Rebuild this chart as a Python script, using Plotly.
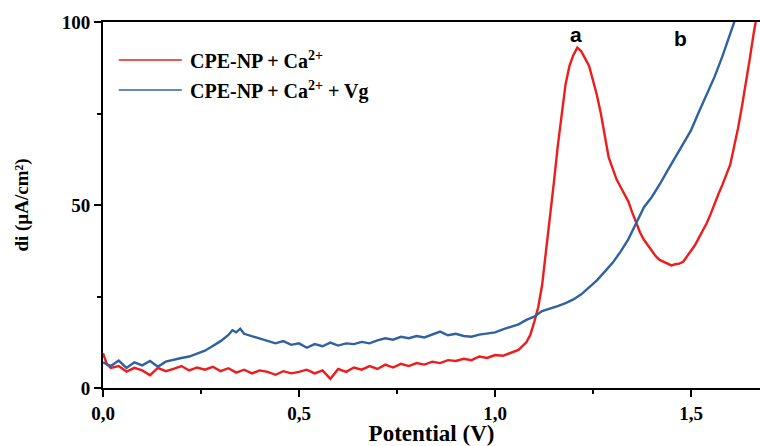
import plotly.graph_objects as go

# Differential pulse voltammograms: potential (V) vs current density (µA/cm²)
red_x = [0.00, 0.01, 0.02, 0.04, 0.06, 0.08, 0.10, 0.12, 0.14, 0.16, 0.18, 0.20,
         0.22, 0.24, 0.26, 0.28, 0.30, 0.32, 0.34, 0.36, 0.38, 0.40, 0.42, 0.44,
         0.46, 0.48, 0.50, 0.52, 0.54, 0.56, 0.58, 0.60, 0.62, 0.64, 0.66, 0.68,
         0.70, 0.72, 0.74, 0.76, 0.78, 0.80, 0.82, 0.84, 0.86, 0.88, 0.90, 0.92,
         0.94, 0.96, 0.98, 1.00, 1.02, 1.04, 1.06, 1.08, 1.09, 1.10, 1.11, 1.12,
         1.13, 1.14, 1.15, 1.16, 1.17, 1.18, 1.19, 1.20, 1.21, 1.22, 1.23, 1.24,
         1.25, 1.26, 1.27, 1.28, 1.29, 1.30, 1.31, 1.32, 1.33, 1.34, 1.35, 1.36,
         1.37, 1.38, 1.39, 1.40, 1.41, 1.42, 1.43, 1.44, 1.45, 1.46, 1.47, 1.48,
         1.49, 1.50, 1.51, 1.52, 1.53, 1.54, 1.55, 1.56, 1.57, 1.58, 1.59, 1.60,
         1.61, 1.62, 1.63, 1.64, 1.65, 1.66, 1.67]
red_y = [9.5, 6.5, 5.5, 6.0, 4.5, 5.5, 4.8, 3.5, 5.5, 4.6, 5.2, 6.0,
         4.8, 5.6, 5.0, 5.8, 4.6, 5.4, 4.2, 5.0, 4.0, 4.8, 4.4, 3.6,
         4.6, 4.0, 4.4, 5.0, 4.0, 4.8, 2.5, 5.2, 4.4, 5.6, 5.0, 6.0,
         5.2, 6.4, 5.6, 6.6, 6.0, 6.8, 6.4, 7.2, 6.8, 7.6, 7.4, 8.0,
         7.6, 8.6, 8.2, 9.0, 8.8, 9.6, 10.4, 12.5, 14.5, 18.0, 22.0, 28.0,
         37.0, 46.0, 56.0, 66.0, 75.0, 83.0, 88.0, 91.0, 93.0, 92.0, 90.0, 88.0,
         84.0, 80.0, 75.0, 69.0, 63.0, 60.0, 57.0, 55.0, 53.0, 51.0, 48.0, 45.0,
         42.5, 40.5, 39.0, 37.5, 36.0, 35.0, 34.5, 34.0, 33.5, 33.8, 34.0, 34.5,
         36.0, 37.5, 39.0, 41.0, 43.0, 45.0, 47.5, 50.5, 53.0, 55.5, 58.0, 61.0,
         66.0, 71.0, 77.0, 83.0, 90.0, 97.0, 103.0]

blue_x = [0.00, 0.02, 0.04, 0.06, 0.08, 0.10, 0.12, 0.14, 0.16, 0.18, 0.20, 0.22,
          0.24, 0.26, 0.28, 0.30, 0.32, 0.33, 0.34, 0.35, 0.36, 0.38, 0.40, 0.42,
          0.44, 0.46, 0.48, 0.50, 0.52, 0.54, 0.56, 0.58, 0.60, 0.62, 0.64, 0.66,
          0.68, 0.70, 0.72, 0.74, 0.76, 0.78, 0.80, 0.82, 0.84, 0.86, 0.88, 0.90,
          0.92, 0.94, 0.96, 0.98, 1.00, 1.02, 1.04, 1.06, 1.08, 1.10, 1.12, 1.14,
          1.16, 1.18, 1.20, 1.22, 1.24, 1.26, 1.28, 1.30, 1.32, 1.34, 1.36, 1.38,
          1.40, 1.42, 1.44, 1.46, 1.48, 1.50, 1.52, 1.54, 1.56, 1.58, 1.60, 1.62]
blue_y = [7.0, 6.0, 7.5, 5.5, 7.0, 6.2, 7.4, 5.8, 7.2, 7.8, 8.2, 8.6,
          9.4, 10.2, 11.5, 12.8, 14.5, 15.8, 15.2, 16.2, 14.8, 14.2, 13.5, 13.0,
          12.2, 12.8, 11.8, 12.2, 11.0, 12.0, 11.4, 12.4, 11.6, 12.2, 12.0, 12.6,
          12.2, 13.0, 13.6, 13.2, 14.0, 13.6, 14.2, 13.8, 14.6, 15.4, 14.4, 14.8,
          14.2, 14.0, 14.6, 15.0, 15.2, 16.0, 16.6, 17.4, 18.6, 19.5, 21.0, 21.6,
          22.4, 23.2, 24.2, 25.6, 27.4, 29.4, 31.8, 34.2, 37.2, 40.6, 45.0, 49.4,
          52.2, 55.6, 59.4, 63.0, 66.6, 70.4, 75.4, 80.0, 85.0, 90.6, 97.0, 103.0]

series_names = ["CPE-NP + Ca<sup>2+</sup>", "CPE-NP + Ca<sup>2+</sup> + Vg"]
series_colors = ["#ee1c1c", "#2e62a0"]

x_ticks = [0.0, 0.5, 1.0, 1.5]
x_tick_text = ["0,0", "0,5", "1,0", "1,5"]
y_ticks = [0, 50, 100]

peak_labels = ["a", "b"]
peak_label_x = [1.207, 1.472]
peak_label_y = [96.7, 95.4]

serif = "Liberation Serif"

fig = go.Figure()
fig.add_trace(go.Scatter(x=red_x, y=red_y, mode="lines", name=series_names[0],
                         line=dict(color=series_colors[0], width=2.4), showlegend=False))
fig.add_trace(go.Scatter(x=blue_x, y=blue_y, mode="lines", name=series_names[1],
                         line=dict(color=series_colors[1], width=2.4), showlegend=False))

# Hand-placed legend: line samples plus labels
legend_y = [0.896, 0.814]
for name, color, ly in zip(series_names, series_colors, legend_y):
    fig.add_shape(type="line", xref="paper", yref="paper",
                  x0=0.024, x1=0.120, y0=ly, y1=ly,
                  line=dict(color=color, width=1.5))
    fig.add_annotation(xref="paper", yref="paper", x=0.130, y=ly, xanchor="left",
                       yanchor="middle", text="<b>" + name + "</b>", showarrow=False,
                       font=dict(family=serif, size=20, color="black", weight="bold"))

for t, px, py in zip(peak_labels, peak_label_x, peak_label_y):
    fig.add_annotation(x=px, y=py, text="<b>" + t + "</b>", showarrow=False,
                       font=dict(family="Liberation Sans", size=21, color="black", weight="bold"))

fig.update_layout(
    width=760, height=446,
    margin=dict(l=103, r=0, t=22, b=58),
    paper_bgcolor="white", plot_bgcolor="white",
    font=dict(family=serif, color="black"),
)
fig.update_xaxes(
    range=[0, 1.676], tickvals=x_ticks, ticktext=x_tick_text,
    showline=True, linecolor="black", linewidth=2, mirror=True,
    ticks="outside", ticklen=7, tickwidth=2, tickcolor="black",
    minor=dict(ticks="outside", dtick=0.25, tick0=0, ticklen=4, tickwidth=2, tickcolor="black"),
    showgrid=False, zeroline=False, automargin=False,
    tickfont=dict(family=serif, size=19, color="black", weight="bold"),
    title=dict(text="<b>Potential (V)</b>",
               font=dict(family=serif, size=23, color="black", weight="bold"), standoff=10),
)
fig.update_yaxes(
    range=[0, 100], tickvals=y_ticks,
    showline=True, linecolor="black", linewidth=2, mirror=False,
    ticks="outside", ticklen=7, tickwidth=2, tickcolor="black",
    minor=dict(ticks="outside", dtick=25, tick0=0, ticklen=4, tickwidth=2, tickcolor="black"),
    showgrid=False, zeroline=False, automargin=False,
    tickfont=dict(family=serif, size=19, color="black", weight="bold"),
    title=dict(text="<b>di (µA/cm²)</b>",
               font=dict(family=serif, size=19, color="black", weight="bold"), standoff=28),
)

fig.write_html("out.html")
